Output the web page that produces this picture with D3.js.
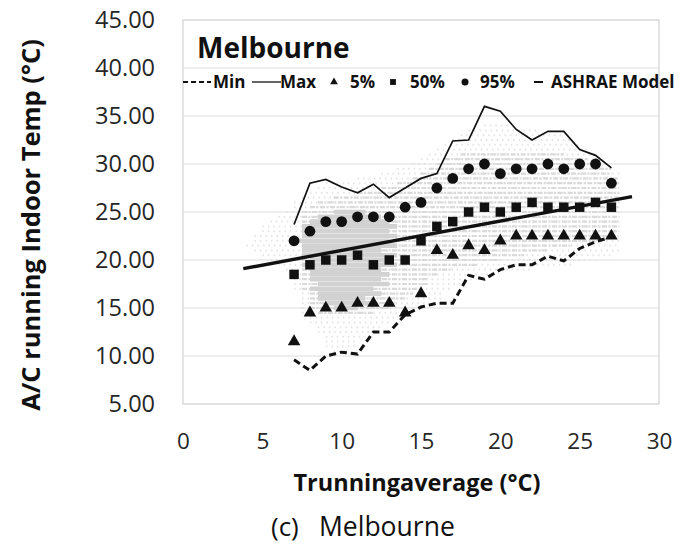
<!DOCTYPE html>
<html>
<head>
<meta charset="utf-8">
<script src="https://cdn.jsdelivr.net/npm/d3@7"></script>
<style>
  html, body { margin: 0; padding: 0; background: #fff; }
  svg { display: block; font-family: "Open Sans", "DejaVu Sans", sans-serif; }
</style>
</head>
<body>
<svg id="chart" width="681" height="545"></svg>
<script>
// Running-mean outdoor temperature bins (°C)
const binX = [7, 8, 9, 10, 11, 12, 13, 14, 15, 16, 17, 18, 19, 20, 21, 22, 23, 24, 25, 26, 27];

// Indoor temperature statistics per bin (°C)
const minTemp = [9.6, 8.5, 10.0, 10.4, 10.2, 12.5, 12.5, 14.3, 15.1, 15.5, 15.5, 18.4, 18.0, 19.0, 19.5, 19.5, 20.4, 19.9, 21.2, 21.9, 22.4];
const maxTemp = [23.7, 28.0, 28.4, 27.6, 27.0, 27.9, 26.5, 27.5, 28.5, 29.0, 32.4, 32.5, 36.0, 35.5, 33.6, 32.5, 33.4, 33.4, 31.5, 30.9, 29.6];
const p5 = [11.5, 14.5, 15.0, 15.0, 15.5, 15.5, 15.5, 14.5, 16.5, 21.0, 20.5, 21.5, 21.0, 22.0, 22.5, 22.5, 22.5, 22.5, 22.5, 22.5, 22.5];
const p50 = [18.5, 19.5, 20.0, 20.0, 20.5, 19.5, 20.0, 20.0, 22.0, 23.5, 24.0, 25.0, 25.5, 25.0, 25.5, 26.0, 25.5, 25.5, 25.5, 26.0, 25.5];
const p95 = [22.0, 23.0, 24.0, 24.0, 24.5, 24.5, 24.5, 25.5, 26.0, 27.5, 28.5, 29.5, 30.0, 29.0, 29.5, 29.5, 30.0, 29.5, 30.0, 30.0, 28.0];

// ASHRAE adaptive comfort model, end points of the drawn segment
const ashraeX = [3.8, 28.3];
const ashraeY = [19.1, 26.6];

// Observation cloud, logged at 0.5 °C steps: [indoor temp, running mean from, running mean to]
const sparseRows = [
  [34.0, 19.0, 20.5], [33.5, 18.0, 22.5], [33.0, 17.5, 24.0], [32.5, 17.0, 24.5],
  [32.0, 16.5, 25.0], [31.5, 16.0, 25.5], [31.0, 15.5, 26.0], [30.5, 15.0, 26.5],
  [30.0, 14.5, 27.0], [29.5, 13.5, 27.0], [29.0, 12.5, 27.5], [28.5, 11.0, 27.5],
  [28.0, 9.0, 27.5], [27.5, 8.5, 27.5], [27.0, 8.0, 27.5], [26.5, 7.5, 27.5],
  [26.0, 7.0, 27.5], [25.5, 7.0, 27.5], [25.0, 6.5, 27.5], [24.5, 6.0, 27.5],
  [24.0, 5.5, 27.5], [23.5, 5.0, 27.5], [23.0, 5.0, 27.5], [22.5, 4.5, 27.5],
  [22.0, 4.5, 27.5], [21.5, 4.0, 27.5], [21.0, 4.5, 27.5], [20.5, 5.0, 27.0],
  [20.0, 5.5, 26.0], [19.5, 6.0, 24.5], [19.0, 6.5, 22.0], [18.5, 7.0, 19.5],
  [18.0, 7.0, 18.5], [17.5, 7.0, 17.5], [17.0, 7.0, 17.0], [16.5, 7.5, 16.5],
  [16.0, 7.5, 16.5], [15.5, 7.5, 15.5], [15.0, 7.5, 15.0], [14.5, 7.5, 14.5],
  [14.0, 8.0, 13.5], [13.5, 8.0, 13.0], [13.0, 8.5, 12.5], [12.5, 8.5, 12.0],
  [12.0, 9.0, 11.5], [11.5, 9.0, 11.0], [11.0, 9.0, 11.0], [10.5, 9.5, 10.5]
];
const bandRows = [
  [31.0, 17.5, 24.0], [30.5, 16.5, 25.5], [30.0, 16.0, 26.5], [29.5, 15.5, 27.0],
  [29.0, 15.0, 27.0], [28.5, 14.5, 27.5], [28.0, 13.5, 27.5], [27.5, 12.5, 27.5],
  [27.0, 11.0, 27.5], [26.5, 9.5, 27.5], [26.0, 8.5, 27.5], [25.5, 8.0, 27.5],
  [25.0, 7.5, 27.5], [24.5, 7.5, 27.5], [24.0, 7.5, 27.5], [23.5, 7.5, 27.5],
  [23.0, 7.5, 27.5], [22.5, 7.5, 27.0], [22.0, 7.5, 26.0], [21.5, 7.5, 24.5],
  [21.0, 7.5, 23.0], [20.5, 7.5, 21.5], [20.0, 7.5, 20.0], [19.5, 7.5, 18.5],
  [19.0, 7.5, 17.0], [18.5, 7.5, 16.0], [18.0, 7.5, 15.5], [17.5, 7.5, 15.5],
  [17.0, 7.5, 15.0], [16.5, 8.0, 14.5], [16.0, 8.0, 14.0], [15.5, 8.0, 13.5],
  [15.0, 8.0, 13.0], [14.5, 8.5, 12.0]
];
const coreRows = [
  [25.0, 9.5, 11.5], [24.5, 8.5, 12.5], [24.0, 8.0, 13.0], [23.5, 7.5, 13.5],
  [23.0, 7.5, 13.0], [22.5, 7.5, 13.5], [22.0, 7.0, 13.0], [21.5, 7.5, 13.5],
  [21.0, 7.5, 12.5], [20.5, 7.5, 13.5], [20.0, 8.0, 13.0], [19.5, 7.5, 13.5],
  [19.0, 8.0, 12.5], [18.5, 8.0, 13.0], [18.0, 8.0, 12.5], [17.5, 8.5, 13.0],
  [17.0, 8.0, 12.0], [16.5, 8.5, 12.5], [16.0, 8.5, 11.5], [15.5, 9.0, 12.0],
  [15.0, 9.5, 11.0]
];

// Axis ticks
const xTicks = [0, 5, 10, 15, 20, 25, 30];
const yTicks = [5, 10, 15, 20, 25, 30, 35, 40, 45];

// Text
const cityTitle = "Melbourne";
const yTitle = "A/C running Indoor Temp (°C)";
const xTitle = "Trunningaverage (°C)";
const captionTag = "(c)";
const captionCity = "Melbourne";

const svg = d3.select("#chart");
const plot = { left: 183, right: 659, top: 20, bottom: 404 };

const x = d3.scaleLinear().domain([0, 30]).range([plot.left, plot.right]);
const y = d3.scaleLinear().domain([5, 45]).range([plot.bottom, plot.top]);

// Horizontal gridlines and plot frame
svg.append("g").selectAll("line").data(yTicks).join("line")
  .attr("x1", plot.left).attr("x2", plot.right)
  .attr("y1", d => y(d)).attr("y2", d => y(d))
  .attr("stroke", "#dedede").attr("stroke-width", 1.2);
svg.append("rect")
  .attr("x", plot.left).attr("y", plot.top)
  .attr("width", plot.right - plot.left).attr("height", plot.bottom - plot.top)
  .attr("fill", "none").attr("stroke", "#dcdcdc").attr("stroke-width", 1.5);

// Axes (labels only)
const yAxis = svg.append("g").attr("transform", `translate(${plot.left},0)`)
  .call(d3.axisLeft(y).tickValues(yTicks).tickFormat(d3.format(".2f")).tickSize(0).tickPadding(28));
yAxis.select(".domain").remove();
yAxis.selectAll("text").attr("font-size", 23.5).attr("fill", "#262626")
  .attr("font-family", "'Open Sans', sans-serif");

const xAxis = svg.append("g").attr("transform", `translate(0,${plot.bottom})`)
  .call(d3.axisBottom(x).tickValues(xTicks).tickFormat(d3.format("d")).tickSize(0).tickPadding(29));
xAxis.select(".domain").remove();
xAxis.selectAll("text").attr("font-size", 22.5).attr("fill", "#262626")
  .attr("font-family", "'Open Sans', sans-serif");

// Observation cloud
const cloud = svg.append("g");
function drawRows(rows, color, width, dash) {
  cloud.append("g").selectAll("line").data(rows).join("line")
    .attr("x1", d => x(d[1])).attr("x2", d => x(d[2]))
    .attr("y1", d => y(d[0])).attr("y2", d => y(d[0]))
    .attr("stroke", color).attr("stroke-width", width)
    .attr("stroke-dasharray", dash);
}
drawRows(sparseRows, "#e4e4e4", 2, "1.5,4");
drawRows(bandRows, "#dadada", 2.2, "5,1.5,2,1.5");
drawRows(coreRows, "#d2d2d2", 4.6, null);

// ASHRAE model line
svg.append("line")
  .attr("x1", x(ashraeX[0])).attr("y1", y(ashraeY[0]))
  .attr("x2", x(ashraeX[1])).attr("y2", y(ashraeY[1]))
  .attr("stroke", "#111").attr("stroke-width", 3.4);

// Min / Max lines
const line = vals => d3.line().x((d, i) => x(binX[i])).y(d => y(d))(vals);
svg.append("path").attr("d", line(minTemp))
  .attr("fill", "none").attr("stroke", "#111").attr("stroke-width", 3)
  .attr("stroke-dasharray", "7,4");
svg.append("path").attr("d", line(maxTemp))
  .attr("fill", "none").attr("stroke", "#111").attr("stroke-width", 1.7);

// Percentile markers
const tri = d3.symbol().type(d3.symbolTriangle).size(68);
const sq = d3.symbol().type(d3.symbolSquare).size(90);
svg.append("g").selectAll("path").data(p5).join("path")
  .attr("d", tri).attr("fill", "#111")
  .attr("transform", (d, i) => `translate(${x(binX[i])},${y(d)})`);
svg.append("g").selectAll("path").data(p50).join("path")
  .attr("d", sq).attr("fill", "#111")
  .attr("transform", (d, i) => `translate(${x(binX[i])},${y(d)})`);
svg.append("g").selectAll("circle").data(p95).join("circle")
  .attr("cx", (d, i) => x(binX[i])).attr("cy", d => y(d)).attr("r", 5.4)
  .attr("fill", "#111");

// City title
svg.append("text").attr("x", 197).attr("y", 58)
  .attr("font-size", 28).attr("font-weight", "bold").attr("fill", "#111")
  .text(cityTitle);

// Legend
const lg = svg.append("g").attr("font-size", 17).attr("font-weight", "bold").attr("fill", "#111");
const ly = 82;
lg.append("line").attr("x1", 183).attr("x2", 211).attr("y1", ly).attr("y2", ly)
  .attr("stroke", "#111").attr("stroke-width", 2).attr("stroke-dasharray", "5,3");
lg.append("text").attr("x", 213).attr("y", ly + 6).text("Min");
lg.append("line").attr("x1", 252).attr("x2", 281).attr("y1", ly).attr("y2", ly)
  .attr("stroke", "#111").attr("stroke-width", 1.3);
lg.append("text").attr("x", 280).attr("y", ly + 6).text("Max");
lg.append("path").attr("d", d3.symbol().type(d3.symbolTriangle).size(26))
  .attr("transform", `translate(334,${ly})`);
lg.append("text").attr("x", 350).attr("y", ly + 6).text("5%");
lg.append("path").attr("d", d3.symbol().type(d3.symbolSquare).size(34))
  .attr("transform", `translate(393,${ly})`);
lg.append("text").attr("x", 410).attr("y", ly + 6).text("50%");
lg.append("circle").attr("cx", 465).attr("cy", ly).attr("r", 3.5);
lg.append("text").attr("x", 480).attr("y", ly + 6).text("95%");
lg.append("line").attr("x1", 534).attr("x2", 543).attr("y1", ly).attr("y2", ly)
  .attr("stroke", "#111").attr("stroke-width", 2);
lg.append("text").attr("x", 551).attr("y", ly + 6).text("ASHRAE Model");

// Axis titles and caption
svg.append("text")
  .attr("transform", "translate(40,225) rotate(-90)")
  .attr("text-anchor", "middle").attr("font-size", 25.5).attr("font-weight", "bold").attr("fill", "#111")
  .text(yTitle);
svg.append("text").attr("x", 417).attr("y", 491)
  .attr("text-anchor", "middle").attr("font-size", 23.5).attr("font-weight", "bold").attr("fill", "#111")
  .text(xTitle);
svg.append("text").attr("x", 271).attr("y", 536)
  .attr("font-size", 26).attr("fill", "#111")
  .text(captionTag);
svg.append("text").attr("x", 319).attr("y", 536)
  .attr("font-size", 26.5).attr("fill", "#111")
  .text(captionCity);
</script>
</body>
</html>
